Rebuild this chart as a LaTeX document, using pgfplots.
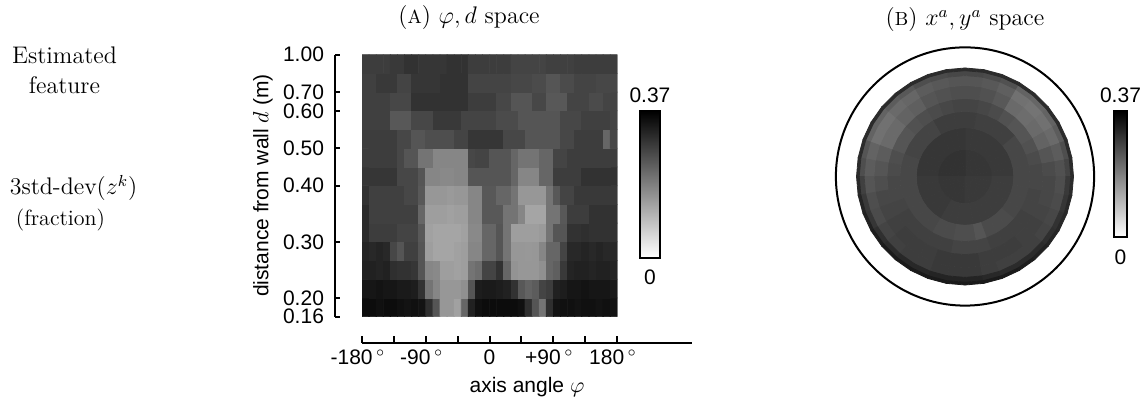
\documentclass[border=0pt]{standalone}
\usepackage{pgfplots}
\pgfplotsset{compat=1.18}
\usepackage{fontspec}
\setsansfont{Liberation Sans}
\newcommand{\sfl}{\sffamily\fontsize{10.5}{12.6}\selectfont}
\newcommand{\srf}{\rmfamily\fontsize{12}{15}\selectfont}
\pgfplotsset{colormap={bwinv}{gray(0cm)=(1); gray(1cm)=(0)}}
\begin{document}
\begin{tikzpicture}
\path[use as bounding box] (0,0) rectangle (572pt,205pt);
% left labels and titles
\node[font=\srf, align=center] at (32.25pt,170pt) {Estimated\\feature};
\node[font=\srf] at (36.75pt,111pt) {3std-dev$(z^k)$};
\node[font=\rmfamily\fontsize{11}{13}\selectfont] at (30.25pt,95pt) {(fraction)};
\node[font=\srf] at (234.5pt,196pt) {({\fontsize{9.5}{10}\selectfont A}) $\varphi, d$ space};
\node[font=\srf] at (482.5pt,195pt) {({\fontsize{9.5}{10}\selectfont B}) $x^a, y^a$ space};
% ---------------- panel A heatmap
\begin{axis}[
  at={(181pt,46.65pt)}, anchor=south west, scale only axis,
  width=127.65pt, height=131pt,
  xmin=-180, xmax=180, ymin=-0.5, ymax=13.5,
  hide axis,
  colormap name=bwinv, point meta min=0, point meta max=0.37,
  colorbar,
  colorbar style={
    at={(parent axis.north east)}, anchor=north west,
    xshift=2.81pt, yshift=-28.15pt,
    scale only axis, width=10pt, height=73.5pt,
    ytick=\empty, xtick=\empty,
    axis line style={line width=1pt},
    extra description/.code={
      \node[anchor=south, font=\sfl, yshift=0.5pt] at (0.5,1) {0.37};
      \node[anchor=north, font=\sfl, yshift=-2.5pt] at (0.5,0) {0};
    },
  },
]
\addplot[matrix plot*, mesh/cols=36, point meta=explicit] coordinates {
(-175,0)[.35] (-165,0)[.35] (-155,0)[.345] (-145,0)[.35] (-135,0)[.35] (-125,0)[.345] (-115,0)[.34] (-105,0)[.345] (-95,0)[.34] (-85,0)[.30] (-75,0)[.245] (-65,0)[.15] (-55,0)[.15] (-45,0)[.135] (-35,0)[.22] (-25,0)[.32] (-15,0)[.345] (-5,0)[.35]
(5,0)[.35] (15,0)[.35] (25,0)[.35] (35,0)[.35] (45,0)[.345] (55,0)[.30] (65,0)[.245] (75,0)[.20] (85,0)[.30] (95,0)[.34] (105,0)[.345] (115,0)[.345] (125,0)[.34] (135,0)[.345] (145,0)[.345] (155,0)[.34] (165,0)[.345] (175,0)[.34]
(-175,1)[.335] (-165,1)[.335] (-155,1)[.34] (-145,1)[.335] (-135,1)[.335] (-125,1)[.33] (-115,1)[.33] (-105,1)[.325] (-95,1)[.295] (-85,1)[.20] (-75,1)[.175] (-65,1)[.15] (-55,1)[.15] (-45,1)[.15] (-35,1)[.16] (-25,1)[.245] (-15,1)[.325] (-5,1)[.33]
(5,1)[.33] (15,1)[.325] (25,1)[.32] (35,1)[.295] (45,1)[.24] (55,1)[.225] (65,1)[.235] (75,1)[.27] (85,1)[.28] (95,1)[.32] (105,1)[.325] (115,1)[.335] (125,1)[.335] (135,1)[.34] (145,1)[.335] (155,1)[.335] (165,1)[.335] (175,1)[.33]
(-175,2)[.32] (-165,2)[.32] (-155,2)[.315] (-145,2)[.32] (-135,2)[.30] (-125,2)[.295] (-115,2)[.295] (-105,2)[.29] (-95,2)[.245] (-85,2)[.175] (-75,2)[.17] (-65,2)[.14] (-55,2)[.14] (-45,2)[.135] (-35,2)[.14] (-25,2)[.20] (-15,2)[.21] (-5,2)[.27]
(5,2)[.27] (15,2)[.295] (25,2)[.22] (35,2)[.155] (45,2)[.15] (55,2)[.15] (65,2)[.15] (75,2)[.16] (85,2)[.22] (95,2)[.23] (105,2)[.285] (115,2)[.315] (125,2)[.32] (135,2)[.32] (145,2)[.315] (155,2)[.32] (165,2)[.32] (175,2)[.315]
(-175,3)[.315] (-165,3)[.31] (-155,3)[.315] (-145,3)[.31] (-135,3)[.265] (-125,3)[.245] (-115,3)[.275] (-105,3)[.275] (-95,3)[.245] (-85,3)[.14] (-75,3)[.13] (-65,3)[.13] (-55,3)[.13] (-45,3)[.135] (-35,3)[.14] (-25,3)[.175] (-15,3)[.175] (-5,3)[.22]
(5,3)[.22] (15,3)[.245] (25,3)[.20] (35,3)[.15] (45,3)[.15] (55,3)[.148] (65,3)[.15] (75,3)[.175] (85,3)[.22] (95,3)[.22] (105,3)[.27] (115,3)[.31] (125,3)[.31] (135,3)[.315] (145,3)[.31] (155,3)[.315] (165,3)[.31] (175,3)[.31]
(-175,4)[.305] (-165,4)[.28] (-155,4)[.28] (-145,4)[.28] (-135,4)[.28] (-125,4)[.27] (-115,4)[.27] (-105,4)[.27] (-95,4)[.24] (-85,4)[.135] (-75,4)[.13] (-65,4)[.13] (-55,4)[.13] (-45,4)[.13] (-35,4)[.135] (-25,4)[.17] (-15,4)[.17] (-5,4)[.22]
(5,4)[.22] (15,4)[.245] (25,4)[.20] (35,4)[.14] (45,4)[.14] (55,4)[.14] (65,4)[.14] (75,4)[.145] (85,4)[.20] (95,4)[.245] (105,4)[.245] (115,4)[.295] (125,4)[.295] (135,4)[.30] (145,4)[.295] (155,4)[.295] (165,4)[.295] (175,4)[.295]
(-175,5)[.305] (-165,5)[.275] (-155,5)[.275] (-145,5)[.275] (-135,5)[.275] (-125,5)[.275] (-115,5)[.275] (-105,5)[.275] (-95,5)[.22] (-85,5)[.14] (-75,5)[.14] (-65,5)[.14] (-55,5)[.135] (-45,5)[.14] (-35,5)[.14] (-25,5)[.175] (-15,5)[.175] (-5,5)[.24]
(5,5)[.24] (15,5)[.24] (25,5)[.20] (35,5)[.20] (45,5)[.175] (55,5)[.13] (65,5)[.13] (75,5)[.13] (85,5)[.20] (95,5)[.20] (105,5)[.24] (115,5)[.28] (125,5)[.28] (135,5)[.28] (145,5)[.295] (155,5)[.295] (165,5)[.295] (175,5)[.295]
(-175,6)[.295] (-165,6)[.275] (-155,6)[.275] (-145,6)[.275] (-135,6)[.275] (-125,6)[.275] (-115,6)[.265] (-105,6)[.265] (-95,6)[.24] (-85,6)[.15] (-75,6)[.15] (-65,6)[.15] (-55,6)[.145] (-45,6)[.15] (-35,6)[.15] (-25,6)[.175] (-15,6)[.175] (-5,6)[.24]
(5,6)[.24] (15,6)[.22] (25,6)[.22] (35,6)[.20] (45,6)[.15] (55,6)[.15] (65,6)[.15] (75,6)[.15] (85,6)[.20] (95,6)[.24] (105,6)[.27] (115,6)[.27] (125,6)[.285] (135,6)[.285] (145,6)[.285] (155,6)[.285] (165,6)[.285] (175,6)[.285]
(-175,7)[.29] (-165,7)[.29] (-155,7)[.29] (-145,7)[.29] (-135,7)[.29] (-125,7)[.265] (-115,7)[.265] (-105,7)[.265] (-95,7)[.245] (-85,7)[.175] (-75,7)[.175] (-65,7)[.17] (-55,7)[.17] (-45,7)[.175] (-35,7)[.175] (-25,7)[.245] (-15,7)[.245] (-5,7)[.245]
(5,7)[.245] (15,7)[.245] (25,7)[.245] (35,7)[.22] (45,7)[.175] (55,7)[.175] (65,7)[.175] (75,7)[.22] (85,7)[.22] (95,7)[.28] (105,7)[.28] (115,7)[.28] (125,7)[.28] (135,7)[.295] (145,7)[.295] (155,7)[.295] (165,7)[.295] (175,7)[.295]
(-175,8)[.28] (-165,8)[.28] (-155,8)[.28] (-145,8)[.28] (-135,8)[.28] (-125,8)[.265] (-115,8)[.245] (-105,8)[.245] (-95,8)[.20] (-85,8)[.20] (-75,8)[.175] (-65,8)[.175] (-55,8)[.175] (-45,8)[.175] (-35,8)[.175] (-25,8)[.265] (-15,8)[.27] (-5,8)[.27]
(5,8)[.245] (15,8)[.245] (25,8)[.245] (35,8)[.22] (45,8)[.20] (55,8)[.20] (65,8)[.20] (75,8)[.22] (85,8)[.22] (95,8)[.27] (105,8)[.27] (115,8)[.28] (125,8)[.28] (135,8)[.28] (145,8)[.28] (155,8)[.28] (165,8)[.28] (175,8)[.28]
(-175,9)[.28] (-165,9)[.28] (-155,9)[.28] (-145,9)[.28] (-135,9)[.28] (-125,9)[.265] (-115,9)[.265] (-105,9)[.245] (-95,9)[.245] (-85,9)[.255] (-75,9)[.255] (-65,9)[.255] (-55,9)[.255] (-45,9)[.27] (-35,9)[.27] (-25,9)[.29] (-15,9)[.29] (-5,9)[.29]
(5,9)[.29] (15,9)[.29] (25,9)[.265] (35,9)[.265] (45,9)[.265] (55,9)[.245] (65,9)[.245] (75,9)[.245] (85,9)[.245] (95,9)[.245] (105,9)[.265] (115,9)[.265] (125,9)[.28] (135,9)[.28] (145,9)[.28] (155,9)[.28] (165,9)[.22] (175,9)[.265]
(-175,10)[.275] (-165,10)[.275] (-155,10)[.275] (-145,10)[.275] (-135,10)[.24] (-125,10)[.24] (-115,10)[.24] (-105,10)[.265] (-95,10)[.265] (-85,10)[.265] (-75,10)[.285] (-65,10)[.285] (-55,10)[.285] (-45,10)[.285] (-35,10)[.27] (-25,10)[.27] (-15,10)[.27] (-5,10)[.27]
(5,10)[.27] (15,10)[.26] (25,10)[.26] (35,10)[.26] (45,10)[.245] (55,10)[.245] (65,10)[.245] (75,10)[.245] (85,10)[.245] (95,10)[.245] (105,10)[.265] (115,10)[.265] (125,10)[.265] (135,10)[.275] (145,10)[.275] (155,10)[.275] (165,10)[.275] (175,10)[.27]
(-175,11)[.275] (-165,11)[.275] (-155,11)[.275] (-145,11)[.275] (-135,11)[.265] (-125,11)[.265] (-115,11)[.265] (-105,11)[.295] (-95,11)[.295] (-85,11)[.295] (-75,11)[.295] (-65,11)[.295] (-55,11)[.295] (-45,11)[.295] (-35,11)[.295] (-25,11)[.28] (-15,11)[.28] (-5,11)[.28]
(5,11)[.28] (15,11)[.265] (25,11)[.265] (35,11)[.245] (45,11)[.245] (55,11)[.245] (65,11)[.265] (75,11)[.265] (85,11)[.24] (95,11)[.24] (105,11)[.24] (115,11)[.27] (125,11)[.27] (135,11)[.27] (145,11)[.26] (155,11)[.26] (165,11)[.27] (175,11)[.27]
(-175,12)[.275] (-165,12)[.275] (-155,12)[.285] (-145,12)[.285] (-135,12)[.285] (-125,12)[.27] (-115,12)[.27] (-105,12)[.29] (-95,12)[.29] (-85,12)[.29] (-75,12)[.29] (-65,12)[.295] (-55,12)[.295] (-45,12)[.295] (-35,12)[.295] (-25,12)[.27] (-15,12)[.27] (-5,12)[.27]
(5,12)[.27] (15,12)[.27] (25,12)[.27] (35,12)[.265] (45,12)[.265] (55,12)[.265] (65,12)[.26] (75,12)[.26] (85,12)[.245] (95,12)[.245] (105,12)[.26] (115,12)[.26] (125,12)[.27] (135,12)[.27] (145,12)[.27] (155,12)[.265] (165,12)[.265] (175,12)[.265]
(-175,13)[.28] (-165,13)[.28] (-155,13)[.28] (-145,13)[.28] (-135,13)[.285] (-125,13)[.285] (-115,13)[.295] (-105,13)[.295] (-95,13)[.29] (-85,13)[.29] (-75,13)[.29] (-65,13)[.29] (-55,13)[.295] (-45,13)[.295] (-35,13)[.295] (-25,13)[.28] (-15,13)[.28] (-5,13)[.28]
(5,13)[.28] (15,13)[.28] (25,13)[.28] (35,13)[.27] (45,13)[.27] (55,13)[.27] (65,13)[.27] (75,13)[.27] (85,13)[.275] (95,13)[.275] (105,13)[.275] (115,13)[.275] (125,13)[.28] (135,13)[.28] (145,13)[.28] (155,13)[.28] (165,13)[.28] (175,13)[.28]
};
\end{axis}
% ---------------- panel A y axis (offset)
\begin{axis}[
  at={(167.5pt,46.65pt)}, anchor=south west, scale only axis,
  width=1pt, height=131pt,
  xmin=0, xmax=1, ymin=-0.5, ymax=13.5,
  axis y line*=left, hide x axis,
  y axis line style={-, line width=1pt},
  ytick={-0.5,0.5,3.5,6.5,8.5,10.5,11.5,13.5},
  yticklabels={0.16,0.20,0.30,0.40,0.50,0.60,0.70,1.00},
  tick align=inside, major tick length=2.5pt,
  ytick style={line width=1pt, black},
  yticklabel style={font=\sfl, xshift=-2pt},
  ylabel={distance from wall $d$ (m)},
  ylabel style={font=\sfl, at={([xshift=-36pt]axis description cs:0,0.5)}, anchor=center},
]
\end{axis}
% ---------------- panel A x axis (offset)
\begin{axis}[
  at={(181pt,33.5pt)}, anchor=south west, scale only axis,
  width=165pt, height=1pt,
  xmin=-180, xmax=285.8, ymin=0, ymax=1,
  axis x line*=bottom, hide y axis,
  x axis line style={-, line width=1pt},
  xtick={-180,-135,-90,-45,0,45,90,135,180},
  xticklabels={-180\,$^\circ$\kern4pt,,-90\,$^\circ$\kern4pt,,0,,+90\,$^\circ$\kern4pt,,180\,$^\circ$\kern4pt},
  tick align=inside, major tick length=3.5pt,
  xtick style={line width=1pt, black},
  xticklabel style={font=\sfl},
  xlabel={axis angle $\varphi$},
  xlabel style={font=\sfl, at={(axis description cs:0.5,0)}, anchor=center, yshift=-22pt},
]
\end{axis}
% ---------------- panel B disc
\begin{axis}[
  at={(417.4pt,51.65pt)}, anchor=south west, scale only axis,
  width=130.2pt, height=130.2pt,
  xmin=-1.2, xmax=1.2, ymin=-1.2, ymax=1.2,
  hide axis, clip=false,
  colormap name=bwinv, point meta min=0, point meta max=0.37,
  colorbar,
  colorbar style={
    at={(parent axis.north east)}, anchor=north west,
    xshift=0.86pt, yshift=-32.35pt,
    scale only axis, width=6.5pt, height=63pt,
    ytick=\empty, xtick=\empty,
    axis line style={line width=1pt},
    extra description/.code={
      \node[anchor=south, font=\sfl, yshift=0.5pt] at (0.5,1) {0.37};
      \node[anchor=north, font=\sfl, yshift=-3pt] at (0.5,0) {0};
    },
  },
]
\addplot[surf, shader=flat corner, mesh/cols=37, point meta=explicit, data cs=polar] coordinates {
(0,0)[.29] (10,0)[.29] (20,0)[.29] (30,0)[.29] (40,0)[.29] (50,0)[.29] (60,0)[.29] (70,0)[.29] (80,0)[.29] (90,0)[.295] (100,0)[.295] (110,0)[.295] (120,0)[.295] (130,0)[.295] (140,0)[.295] (150,0)[.295] (160,0)[.295] (170,0)[.295] (180,0)[.29] (190,0)[.29] (200,0)[.29] (210,0)[.29] (220,0)[.29] (230,0)[.29] (240,0)[.29] (250,0)[.29] (260,0)[.29] (270,0)[.285] (280,0)[.285] (290,0)[.285] (300,0)[.285] (310,0)[.285] (320,0)[.285] (330,0)[.285] (340,0)[.285] (350,0)[.285] (360,0)[.29]
(0,.25)[.285] (10,.25)[.285] (20,.25)[.285] (30,.25)[.285] (40,.25)[.285] (50,.25)[.285] (60,.25)[.285] (70,.25)[.285] (80,.25)[.285] (90,.25)[.29] (100,.25)[.29] (110,.25)[.29] (120,.25)[.29] (130,.25)[.29] (140,.25)[.29] (150,.25)[.29] (160,.25)[.29] (170,.25)[.29] (180,.25)[.285] (190,.25)[.285] (200,.25)[.285] (210,.25)[.285] (220,.25)[.285] (230,.25)[.285] (240,.25)[.28] (250,.25)[.28] (260,.25)[.28] (270,.25)[.28] (280,.25)[.28] (290,.25)[.28] (300,.25)[.28] (310,.25)[.28] (320,.25)[.28] (330,.25)[.28] (340,.25)[.28] (350,.25)[.28] (360,.25)[.285]
(0,.45)[.265] (10,.45)[.265] (20,.45)[.265] (30,.45)[.265] (40,.45)[.275] (50,.45)[.275] (60,.45)[.275] (70,.45)[.275] (80,.45)[.28] (90,.45)[.28] (100,.45)[.28] (110,.45)[.28] (120,.45)[.27] (130,.45)[.27] (140,.45)[.27] (150,.45)[.27] (160,.45)[.265] (170,.45)[.265] (180,.45)[.265] (190,.45)[.265] (200,.45)[.265] (210,.45)[.265] (220,.45)[.265] (230,.45)[.265] (240,.45)[.26] (250,.45)[.26] (260,.45)[.255] (270,.45)[.255] (280,.45)[.245] (290,.45)[.26] (300,.45)[.26] (310,.45)[.26] (320,.45)[.265] (330,.45)[.265] (340,.45)[.265] (350,.45)[.265] (360,.45)[.265]
(0,.6)[.265] (10,.6)[.26] (20,.6)[.25] (30,.6)[.245] (40,.6)[.245] (50,.6)[.25] (60,.6)[.26] (70,.6)[.265] (80,.6)[.27] (90,.6)[.27] (100,.6)[.265] (110,.6)[.26] (120,.6)[.255] (130,.6)[.25] (140,.6)[.245] (150,.6)[.245] (160,.6)[.255] (170,.6)[.26] (180,.6)[.265] (190,.6)[.265] (200,.6)[.27] (210,.6)[.275] (220,.6)[.275] (230,.6)[.275] (240,.6)[.275] (250,.6)[.275] (260,.6)[.27] (270,.6)[.27] (280,.6)[.27] (290,.6)[.275] (300,.6)[.275] (310,.6)[.275] (320,.6)[.275] (330,.6)[.27] (340,.6)[.27] (350,.6)[.265] (360,.6)[.265]
(0,.72)[.26] (10,.72)[.245] (20,.72)[.225] (30,.72)[.215] (40,.72)[.21] (50,.72)[.215] (60,.72)[.24] (70,.72)[.25] (80,.72)[.255] (90,.72)[.255] (100,.72)[.25] (110,.72)[.245] (120,.72)[.23] (130,.72)[.225] (140,.72)[.215] (150,.72)[.215] (160,.72)[.235] (170,.72)[.245] (180,.72)[.255] (190,.72)[.265] (200,.72)[.27] (210,.72)[.275] (220,.72)[.28] (230,.72)[.28] (240,.72)[.28] (250,.72)[.285] (260,.72)[.285] (270,.72)[.285] (280,.72)[.28] (290,.72)[.28] (300,.72)[.28] (310,.72)[.275] (320,.72)[.275] (330,.72)[.27] (340,.72)[.265] (350,.72)[.265] (360,.72)[.26]
(0,.84)[.25] (10,.84)[.235] (20,.84)[.215] (30,.84)[.205] (40,.84)[.20] (50,.84)[.205] (60,.84)[.23] (70,.84)[.24] (80,.84)[.245] (90,.84)[.245] (100,.84)[.24] (110,.84)[.235] (120,.84)[.22] (130,.84)[.215] (140,.84)[.205] (150,.84)[.205] (160,.84)[.225] (170,.84)[.235] (180,.84)[.245] (190,.84)[.255] (200,.84)[.26] (210,.84)[.27] (220,.84)[.275] (230,.84)[.28] (240,.84)[.28] (250,.84)[.285] (260,.84)[.285] (270,.84)[.285] (280,.84)[.28] (290,.84)[.275] (300,.84)[.275] (310,.84)[.275] (320,.84)[.27] (330,.84)[.265] (340,.84)[.26] (350,.84)[.255] (360,.84)[.25]
(0,.93)[.27] (10,.93)[.255] (20,.93)[.235] (30,.93)[.225] (40,.93)[.22] (50,.93)[.225] (60,.93)[.25] (70,.93)[.26] (80,.93)[.265] (90,.93)[.265] (100,.93)[.26] (110,.93)[.255] (120,.93)[.24] (130,.93)[.235] (140,.93)[.225] (150,.93)[.225] (160,.93)[.245] (170,.93)[.255] (180,.93)[.275] (190,.93)[.285] (200,.93)[.29] (210,.93)[.30] (220,.93)[.305] (230,.93)[.31] (240,.93)[.31] (250,.93)[.315] (260,.93)[.315] (270,.93)[.315] (280,.93)[.31] (290,.93)[.305] (300,.93)[.305] (310,.93)[.305] (320,.93)[.30] (330,.93)[.295] (340,.93)[.29] (350,.93)[.285] (360,.93)[.27]
(0,.975)[.305] (10,.975)[.305] (20,.975)[.305] (30,.975)[.305] (40,.975)[.305] (50,.975)[.305] (60,.975)[.305] (70,.975)[.305] (80,.975)[.305] (90,.975)[.305] (100,.975)[.305] (110,.975)[.305] (120,.975)[.305] (130,.975)[.305] (140,.975)[.305] (150,.975)[.305] (160,.975)[.305] (170,.975)[.305] (180,.975)[.31] (190,.975)[.315] (200,.975)[.32] (210,.975)[.325] (220,.975)[.33] (230,.975)[.33] (240,.975)[.33] (250,.975)[.33] (260,.975)[.33] (270,.975)[.33] (280,.975)[.33] (290,.975)[.33] (300,.975)[.325] (310,.975)[.32] (320,.975)[.315] (330,.975)[.31] (340,.975)[.31] (350,.975)[.305] (360,.975)[.305]
(0,1)[.305] (10,1)[.305] (20,1)[.305] (30,1)[.305] (40,1)[.305] (50,1)[.305] (60,1)[.305] (70,1)[.305] (80,1)[.305] (90,1)[.305] (100,1)[.305] (110,1)[.305] (120,1)[.305] (130,1)[.305] (140,1)[.305] (150,1)[.305] (160,1)[.305] (170,1)[.305] (180,1)[.31] (190,1)[.315] (200,1)[.32] (210,1)[.325] (220,1)[.33] (230,1)[.33] (240,1)[.33] (250,1)[.33] (260,1)[.33] (270,1)[.33] (280,1)[.33] (290,1)[.33] (300,1)[.325] (310,1)[.32] (320,1)[.315] (330,1)[.31] (340,1)[.31] (350,1)[.305] (360,1)[.305]
};
\draw[line width=1pt] (axis cs:0,0) circle[radius=1.19];
\end{axis}
\end{tikzpicture}
\end{document}
